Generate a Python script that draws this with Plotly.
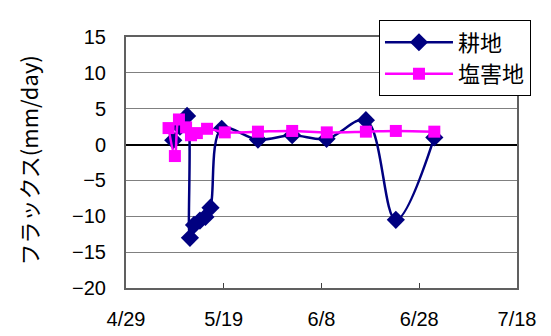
import plotly.graph_objects as go

# 耕地 (cropland)
crop_dates = ["2008-05-08 16:00", "2008-05-10 01:00", "2008-05-11 12:00", "2008-05-12 02:00",
              "2008-05-12 22:00", "2008-05-14 03:00", "2008-05-15 06:00", "2008-05-16 07:00",
              "2008-05-18 14:00", "2008-05-26 00:00", "2008-06-02 00:00", "2008-06-09 01:00",
              "2008-06-17 02:00", "2008-06-23 05:00", "2008-07-01 02:00"]
crop_vals = [0.6, 2.5, 4.0, -13.0, -11.2, -10.6, -10.1, -8.8, 2.2, 0.7, 1.3, 0.8, 3.4, -10.5, 1.0]

# 塩害地 (salt-damaged land)
salt_dates = ["2008-05-07 17:00", "2008-05-09 00:00", "2008-05-09 20:00", "2008-05-11 07:00",
              "2008-05-12 07:00", "2008-05-13 12:00", "2008-05-15 14:00", "2008-05-19 05:00",
              "2008-05-26 00:00", "2008-06-02 00:00", "2008-06-09 02:00", "2008-06-17 02:00",
              "2008-06-23 05:00", "2008-07-01 02:00"]
salt_vals = [2.3, -1.6, 3.5, 2.4, 1.3, 1.6, 2.2, 1.7, 1.8, 1.9, 1.7, 1.8, 1.9, 1.8]

series_names = ["耕地", "塩害地"]
tick_dates = ["2008-04-29", "2008-05-19", "2008-06-08", "2008-06-28", "2008-07-18"]
tick_text = ["4/29", "5/19", "6/8", "6/28", "7/18"]
y_ticks = [-20, -15, -10, -5, 0, 5, 10, 15]
y_title = "フラックス(mm/day)"

font_main = "Liberation Sans, Arial, sans-serif"

fig = go.Figure()
fig.add_trace(go.Scatter(
    x=crop_dates, y=crop_vals, name=series_names[0], mode="lines+markers",
    line=dict(color="#000080", width=2.5, shape="spline"),
    marker=dict(symbol="diamond", size=14, color="#000080"),
))
fig.add_trace(go.Scatter(
    x=salt_dates, y=salt_vals, name=series_names[1], mode="lines+markers",
    line=dict(color="#FF00FF", width=2.5, shape="spline"),
    marker=dict(symbol="square", size=12, color="#FF00FF"),
))

fig.add_annotation(
    text=y_title, textangle=-90, xref="paper", yref="paper",
    x=0, y=0.5, xanchor="center", yanchor="middle", xshift=-99, yshift=2,
    showarrow=False, font=dict(family="Noto Sans CJK JP", size=22, color="black"),
)

fig.update_layout(
    width=551, height=336,
    margin=dict(l=118, r=42, t=23, b=56),
    paper_bgcolor="white", plot_bgcolor="white",
    font=dict(family=font_main, size=20, color="black"),
    legend=dict(
        x=0.647, y=1.066, xanchor="left", yanchor="top",
        bgcolor="white", bordercolor="black", borderwidth=1,
        font=dict(family="Noto Sans CJK JP", size=22, color="black"),
        itemwidth=68, tracegroupgap=0,
    ),
    xaxis=dict(
        type="date", range=["2008-04-29", "2008-07-18"],
        tickvals=tick_dates, ticktext=tick_text,
        showgrid=False, ticks="inside", ticklen=5, tickcolor="#404040",
        showline=True, linecolor="#606060", linewidth=2, mirror=True,
        tickfont=dict(family=font_main, size=20), zeroline=False,
        ticklabelstandoff=12,
    ),
    yaxis=dict(
        range=[-20, 15], tickvals=y_ticks,
        showgrid=True, gridcolor="#808080", gridwidth=1,
        zeroline=True, zerolinecolor="black", zerolinewidth=1.5,
        showline=True, linecolor="#606060", linewidth=2, mirror=True,
        ticks="", tickfont=dict(family=font_main, size=20),
        ticklabelstandoff=14,
    ),
)

fig.write_html("out.html")
